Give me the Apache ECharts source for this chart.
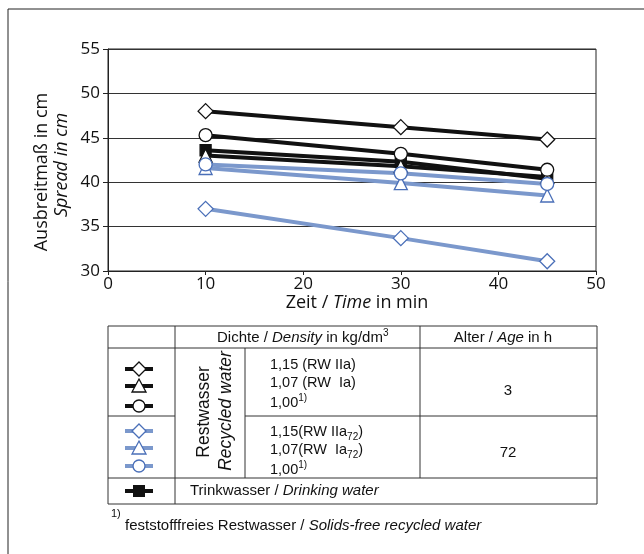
<!DOCTYPE html>
<html>
<head>
<meta charset="utf-8">
<script src="https://cdn.jsdelivr.net/npm/echarts@6/dist/echarts.min.js"></script>
<style>
html, body { margin: 0; padding: 0; background: #fff; }
#main { width: 644px; height: 554px; }
</style>
</head>
<body>
<div id="main"></div>
<script>
// Zeitpunkte in min
var times = [10, 30, 45];
// Restwasser 3 h
var rwIIa3 = [48.0, 46.2, 44.8];
var rwIa3 = [43.0, 41.8, 40.6];
var rw100_3 = [45.3, 43.2, 41.4];
// Restwasser 72 h
var rwIIa72 = [37.0, 33.7, 31.1];
var rwIa72 = [41.6, 39.9, 38.5];
var rw100_72 = [42.0, 41.0, 39.8];
// Trinkwasser
var drinking = [43.6, 42.3, 40.4];

var xTicks = [0, 10, 20, 30, 40, 50];
var yTicks = [30, 35, 40, 45, 50, 55];

var BLACK = '#111';
var BLUE_LINE = '#7b98cc';
var BLUE_MARK = '#4a6fb8';
var FONT_AX = 'Open Sans';
var FONT_TB = 'Liberation Sans';
var TB_SIZE = 15;

function pairs(vals){
	var out = [];
	for (var i = 0; i < times.length; i++) out.push([times[i], vals[i]]);
	return out;
}

function lineSeries(name, vals, symbol, size, lineColor, markColor, filled){
	return {
		name: name,
		type: 'line',
		data: pairs(vals),
		symbol: symbol,
		symbolSize: size,
		showAllSymbol: true,
		lineStyle: { color: lineColor, width: 4 },
		itemStyle: { color: filled ? markColor : '#fff', borderColor: markColor, borderWidth: 1.3 },
		emphasis: { disabled: true },
		animation: false,
		z: 3
	};
}

// Tabelle / Legende
var g = [];
function hline(x1, x2, y){
	g.push({ type: 'line', shape: { x1: x1, y1: y, x2: x2, y2: y }, style: { stroke: '#333', lineWidth: 1 } });
}
function vline(x, y1, y2){
	g.push({ type: 'line', shape: { x1: x, y1: y1, x2: x, y2: y2 }, style: { stroke: '#333', lineWidth: 1 } });
}
function txt(x, y, text, opt){
	opt = opt || {};
	g.push({
		type: 'text', x: x, y: y, rotation: opt.rotation || 0,
		style: {
			text: text, font: (opt.italic ? 'italic ' : '') + (opt.size || TB_SIZE) + 'px "' + (opt.family || FONT_TB) + '"',
			fill: '#111', align: opt.align || 'left', verticalAlign: 'middle',
			rich: opt.rich
		}
	});
}
var tbRich = {
	i: { fontStyle: 'italic', fontSize: TB_SIZE, fontFamily: FONT_TB },
	n: { fontSize: TB_SIZE, fontFamily: FONT_TB },
	sup: { fontSize: 10, fontFamily: FONT_TB, verticalAlign: 'top', lineHeight: 20 },
	sub: { fontSize: 10, fontFamily: FONT_TB, verticalAlign: 'bottom', lineHeight: 20 }
};
var valRich = {
	n: { fontSize: 14.5, fontFamily: FONT_TB },
	sup: { fontSize: 10, fontFamily: FONT_TB, verticalAlign: 'top', lineHeight: 20 },
	sub: { fontSize: 10, fontFamily: FONT_TB, verticalAlign: 'bottom', lineHeight: 20 }
};
function icon(y, shape, lineColor, markColor){
	g.push({ type: 'line', shape: { x1: 125, y1: y, x2: 153, y2: y }, style: { stroke: lineColor, lineWidth: 4 } });
	var st = { fill: '#fff', stroke: markColor, lineWidth: 1.3 };
	if (shape == 'diamond') g.push({ type: 'polygon', shape: { points: [[139, y - 7], [146, y], [139, y + 7], [132, y]] }, style: st });
	else if (shape == 'triangle') g.push({ type: 'polygon', shape: { points: [[139, y - 7], [146, y + 6], [132, y + 6]] }, style: st });
	else if (shape == 'circle') g.push({ type: 'circle', shape: { cx: 139, cy: y, r: 6 }, style: st });
	else g.push({ type: 'rect', shape: { x: 133, y: y - 6, width: 12, height: 12 }, style: { fill: markColor } });
}

// Rahmen
g.push({ type: 'line', shape: { x1: 8, y1: 9, x2: 644, y2: 9 }, style: { stroke: '#222', lineWidth: 1 } });
g.push({ type: 'line', shape: { x1: 8, y1: 9, x2: 8, y2: 554 }, style: { stroke: '#222', lineWidth: 1 } });

hline(108, 597, 326); hline(108, 597, 348); hline(108, 175, 416); hline(245, 597, 416);
hline(108, 597, 478); hline(108, 597, 504);
vline(108, 326, 504); vline(175, 326, 504); vline(245, 348, 478); vline(420, 326, 478); vline(597, 326, 504);

txt(217, 338, '{n|Dichte / }{i|Density}{n| in kg/dm}{sup|3}', { rich: tbRich });
txt(503, 338, '{n|Alter / }{i|Age}{n| in h}', { rich: tbRich, align: 'center' });

txt(270, 365, '{n|1,15 (RW IIa)}', { rich: valRich });
txt(270, 383, '{n|1,07 (RW  Ia)}', { rich: valRich });
txt(270, 403, '{n|1,00}{sup|1)}', { rich: valRich });
txt(270, 432, '{n|1,15(RW IIa}{sub|72}{n|)}', { rich: valRich });
txt(270, 450, '{n|1,07(RW  Ia}{sub|72}{n|)}', { rich: valRich });
txt(270, 470, '{n|1,00}{sup|1)}', { rich: valRich });
txt(508, 391, '3', { align: 'center' });
txt(508, 453, '72', { align: 'center' });

txt(204, 412, 'Restwasser', { rotation: Math.PI / 2, align: 'center', size: 17.5 });
txt(226, 411, 'Recycled water', { rotation: Math.PI / 2, align: 'center', size: 17.5, italic: true });

txt(190, 491, '{n|Trinkwasser / }{i|Drinking water}', { rich: tbRich });

icon(369, 'diamond', BLACK, BLACK);
icon(386, 'triangle', BLACK, BLACK);
icon(406, 'circle', BLACK, BLACK);
icon(431, 'diamond', BLUE_LINE, BLUE_MARK);
icon(448, 'triangle', BLUE_LINE, BLUE_MARK);
icon(466, 'circle', BLUE_LINE, BLUE_MARK);
icon(491, 'square', BLACK, BLACK);

txt(111, 514, '1)', { size: 11 });
txt(125, 526, '{n|feststofffreies Restwasser / }{i|Solids-free recycled water}', { rich: tbRich });

// Achsentitel
txt(42, 172, 'Ausbreitmaß in cm', { rotation: Math.PI / 2, align: 'center', size: 18, family: FONT_AX });
txt(62, 165, 'Spread in cm', { rotation: Math.PI / 2, align: 'center', size: 18, family: FONT_AX, italic: true });
txt(357, 303, '{n|Zeit / }{i|Time}{n| in min}', {
	align: 'center',
	rich: { n: { fontSize: 18, fontFamily: FONT_AX }, i: { fontSize: 18, fontFamily: FONT_AX, fontStyle: 'italic' } }
});

var chart = echarts.init(document.getElementById('main'));
var option = {
	animation: false,
	backgroundColor: '#fff',
	grid: { left: 108, top: 49, right: 48, bottom: 283, show: true, borderColor: '#222', borderWidth: 1 },
	xAxis: {
		type: 'value', min: xTicks[0], max: xTicks[xTicks.length - 1], interval: 10,
		axisLine: { lineStyle: { color: '#222', width: 1 } },
		axisTick: { show: true, inside: false, length: 4, lineStyle: { color: '#222' } },
		axisLabel: { color: '#111', fontSize: 17, fontFamily: FONT_AX, margin: 5 },
		splitLine: { show: false }
	},
	yAxis: {
		type: 'value', min: yTicks[0], max: yTicks[yTicks.length - 1], interval: 5,
		axisLine: { show: true, lineStyle: { color: '#222', width: 1 } },
		axisTick: { show: true, inside: false, length: 5, lineStyle: { color: '#222' } },
		axisLabel: { color: '#111', fontSize: 17, fontFamily: FONT_AX, margin: 8 },
		splitLine: { show: true, lineStyle: { color: '#333', width: 1 } }
	},
	series: [
		lineSeries('1,15 (RW IIa)', rwIIa3, 'diamond', 15, BLACK, BLACK, false),
		lineSeries('Trinkwasser', drinking, 'rect', 11, BLACK, BLACK, true),
		lineSeries('1,07 (RW Ia)', rwIa3, 'triangle', 13, BLACK, BLACK, false),
		lineSeries('1,00 (3 h)', rw100_3, 'circle', 13, BLACK, BLACK, false),
		lineSeries('1,15 (RW IIa72)', rwIIa72, 'diamond', 15, BLUE_LINE, BLUE_MARK, false),
		lineSeries('1,07 (RW Ia72)', rwIa72, 'triangle', 13, BLUE_LINE, BLUE_MARK, false),
		lineSeries('1,00 (72 h)', rw100_72, 'circle', 13, BLUE_LINE, BLUE_MARK, false)
	],
	graphic: { elements: g }
};
chart.setOption(option);
</script>
</body>
</html>
